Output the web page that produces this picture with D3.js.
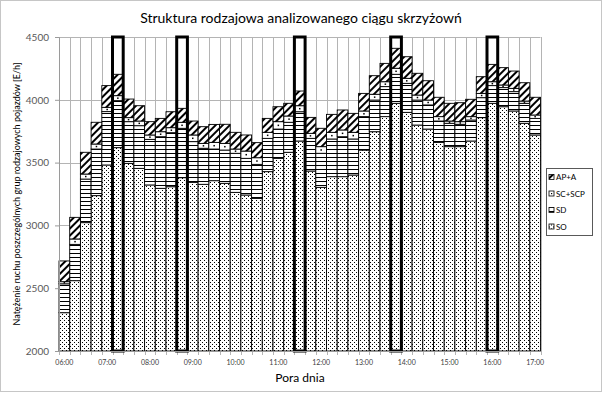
<!DOCTYPE html>
<html>
<head>
<meta charset="utf-8">
<script src="https://cdn.jsdelivr.net/npm/d3@7"></script>
<style>
body { margin: 0; background: #fff; }
svg { display: block; }
text { font-family: Lato, "Liberation Sans", sans-serif; }
</style>
</head>
<body>
<svg id="chart" width="604" height="395"></svg>
<script>
var categories = ["06:00","06:15","06:30","06:45","07:00","07:15","07:30","07:45",
    "08:00","08:15","08:30","08:45","09:00","09:15","09:30","09:45",
    "10:00","10:15","10:30","10:45","11:00","11:15","11:30","11:45",
    "12:00","12:15","12:30","12:45","13:00","13:15","13:30","13:45",
    "14:00","14:15","14:30","14:45","15:00","15:15","15:30","15:45",
    "16:00","16:15","16:30","16:45","17:00"];
var hourLabels = ["06:00","07:00","08:00","09:00","10:00","11:00","12:00","13:00","14:00","15:00","16:00","17:00"];
var yTicks = [2000, 2500, 3000, 3500, 4000, 4500];
var peakTimes = ["07:15","08:45","11:30","13:45","16:00"];

// SO, SD, SC+SCP, AP+A [E/h]
var soValues = [2305,2560,3022,3237,3481,3619,3494,3454,3322,3295,3308,3380,3343,3327,3356,
    3335,3263,3242,3215,3428,3534,3582,3672,3433,3303,3388,3388,3401,3600,3746,
    3866,3972,3900,3799,3767,3661,3627,3627,3672,3858,3972,3945,3911,3813,3720];
var sdValues = [230,289,347,371,425,374,332,340,363,411,430,393,324,287,252,
    265,311,292,271,265,233,239,233,260,271,300,318,287,266,252,
    239,231,231,199,192,170,186,178,167,159,141,152,154,159,132];
var scValues = [17,43,40,40,34,40,32,37,35,40,40,48,53,39,53,
    53,34,58,53,48,59,50,48,40,53,53,54,53,45,46,
    39,48,40,40,39,35,18,21,27,34,31,21,26,18,27];
var apValues = [165,172,173,173,173,170,148,122,106,106,127,111,111,133,143,
    152,133,128,120,111,119,101,117,127,146,143,159,151,140,148,
    146,159,172,173,154,154,141,151,138,133,138,138,138,146,141];

var keys = ["SO", "SD", "SC", "AP"];
var legendNames = {AP: "AP+A", SC: "SC+SCP", SD: "SD", SO: "SO"};

var svg = d3.select("#chart");
var plotLeft = 59, plotRight = 540.5, plotTop = 37, plotBottom = 351;

var table = categories.map(function(c, i) {
    return {time: c, SO: soValues[i], SD: sdValues[i], SC: scValues[i], AP: apValues[i]};
});

var x = d3.scaleBand().domain(categories).range([plotLeft, plotRight]).padding(0);
var y = d3.scaleLinear().domain([2000, 4500]).range([plotBottom, plotTop]);

// patterns
var defs = svg.append("defs");
var pDots = defs.append("pattern").attr("id", "pSO").attr("patternUnits", "userSpaceOnUse")
    .attr("width", 4).attr("height", 4);
pDots.append("rect").attr("width", 4).attr("height", 4).attr("fill", "#fff");
pDots.append("rect").attr("x", 0).attr("y", 0).attr("width", 1).attr("height", 1).attr("fill", "#000");
pDots.append("rect").attr("x", 2).attr("y", 2).attr("width", 1).attr("height", 1).attr("fill", "#000");

var pLines = defs.append("pattern").attr("id", "pSD").attr("patternUnits", "userSpaceOnUse")
    .attr("width", 4).attr("height", 4);
pLines.append("rect").attr("width", 4).attr("height", 4).attr("fill", "#fff");
pLines.append("rect").attr("y", 1).attr("width", 4).attr("height", 1).attr("fill", "#000");

var pHatch = defs.append("pattern").attr("id", "pAP").attr("patternUnits", "userSpaceOnUse")
    .attr("width", 5).attr("height", 5).attr("patternTransform", "rotate(45)");
pHatch.append("rect").attr("width", 5).attr("height", 5).attr("fill", "#fff");
pHatch.append("rect").attr("width", 2).attr("height", 5).attr("fill", "#000");

defs.append("clipPath").attr("id", "plotClip").append("rect")
    .attr("x", plotLeft - 2).attr("y", plotTop - 2)
    .attr("width", plotRight - plotLeft + 4).attr("height", plotBottom - plotTop + 2);

var fills = {SO: "url(#pSO)", SD: "url(#pSD)", SC: "#fff", AP: "url(#pAP)"};

// outer border
svg.append("rect").attr("x", 0.5).attr("y", 0.5).attr("width", 601).attr("height", 391)
    .attr("fill", "none").attr("stroke", "#8c8c8c").attr("stroke-dasharray", "1,1");

// title
svg.append("text").attr("x", 301).attr("y", 23).attr("text-anchor", "middle")
    .style("font-size", "14px").attr("fill", "#000")
    .text("Struktura rodzajowa analizowanego ciągu skrzyżowń");

// gridlines
var g = svg.append("g");
g.selectAll(".hgrid").data(yTicks).enter().append("line")
    .attr("x1", plotLeft).attr("x2", plotRight)
    .attr("y1", function(d) { return Math.round(y(d)) + 0.5; })
    .attr("y2", function(d) { return Math.round(y(d)) + 0.5; })
    .attr("stroke", "#b4b4b4");
var edges = categories.map(function(c) { return x(c); }).concat([plotRight]);
g.selectAll(".vgrid").data(edges).enter().append("line")
    .attr("x1", function(d) { return Math.round(d) + 0.5; })
    .attr("x2", function(d) { return Math.round(d) + 0.5; })
    .attr("y1", plotTop).attr("y2", plotBottom + 4)
    .attr("stroke", "#b4b4b4");

// stacked bars (axis starts at 2000, so the bottom segment is cut there)
var series = d3.stack().keys(keys)(table);
var bars = svg.append("g").attr("clip-path", "url(#plotClip)");
var layer = bars.selectAll(".layer").data(series).enter().append("g").attr("class", "layer");
layer.selectAll("rect").data(function(d) { return d.map(function(p) { p.key = d.key; return p; }); })
    .enter().append("rect")
    .attr("x", function(d) { return x(d.data.time); })
    .attr("width", x.bandwidth())
    .attr("y", function(d) { return y(d[1]); })
    .attr("height", function(d) { return y(Math.max(d[0], 2000)) - y(d[1]); })
    .attr("fill", function(d) { return fills[d.key]; })
    .attr("stroke", "#000").attr("stroke-width", 0.9);

// single dot inside SC+SCP segments
svg.append("g").selectAll("rect").data(series[2]).enter().append("rect")
    .attr("x", function(d) { return x(d.data.time) + x.bandwidth() / 2 - 0.75; })
    .attr("y", function(d) { return (y(d[0]) + y(d[1])) / 2 - 0.75; })
    .attr("width", 1.5).attr("height", 1.5).attr("fill", "#000");

// peak hour frames
svg.append("g").selectAll("rect").data(peakTimes).enter().append("rect")
    .attr("x", function(d) { return x(d); })
    .attr("width", x.bandwidth())
    .attr("y", y(4500)).attr("height", y(2000) - y(4500))
    .attr("fill", "none").attr("stroke", "#000").attr("stroke-width", 3);

// axes
var yAxis = svg.append("g").attr("transform", "translate(" + plotLeft + ",0)")
    .call(d3.axisLeft(y).tickValues(yTicks).tickSize(4).tickPadding(6).tickFormat(d3.format("d")));
yAxis.select(".domain").attr("stroke", "#9a9a9a");
yAxis.selectAll(".tick line").attr("stroke", "#9a9a9a");
yAxis.selectAll("text").style("font-size", "10px").attr("fill", "#595959")
    .style("font-family", "Lato, 'Liberation Sans', sans-serif");

var xAxis = svg.append("g").attr("transform", "translate(0," + plotBottom + ")")
    .call(d3.axisBottom(x).tickValues(hourLabels).tickSize(0).tickPadding(9));
xAxis.select(".domain").attr("stroke", "#9a9a9a");
xAxis.selectAll("text").style("font-size", "7px").attr("fill", "#404040")
    .style("font-family", "Lato, 'Liberation Sans', sans-serif");

// axis titles
svg.append("text").attr("transform", "translate(20,194) rotate(-90)")
    .attr("text-anchor", "middle").style("font-size", "9px").attr("fill", "#000")
    .text("Natężenie ruchu poszczególnych grup rodzajowych pojazdów [E/h]");
svg.append("text").attr("x", 300).attr("y", 382).attr("text-anchor", "middle")
    .style("font-size", "12px").attr("fill", "#000").text("Pora dnia");

// legend
var legend = svg.append("g");
legend.append("rect").attr("x", 546.5).attr("y", 168.5).attr("width", 46).attr("height", 67)
    .attr("fill", "#fff").attr("stroke", "#595959");
var legendKeys = ["AP", "SC", "SD", "SO"];
var item = legend.selectAll(".item").data(legendKeys).enter().append("g")
    .attr("transform", function(d, i) { return "translate(549," + (177 + i * 16.5) + ")"; });
item.append("rect").attr("x", 0).attr("y", -2.5).attr("width", 5).attr("height", 5)
    .attr("fill", function(d) { return fills[d]; }).attr("stroke", "#000").attr("stroke-width", 0.8);
item.filter(function(d) { return d === "SC"; }).append("rect")
    .attr("x", 2).attr("y", -0.5).attr("width", 1.2).attr("height", 1.2).attr("fill", "#000");
item.append("text").attr("x", 7).attr("y", 3).style("font-size", "8px").attr("fill", "#000")
    .text(function(d) { return legendNames[d]; });
</script>
</body>
</html>
